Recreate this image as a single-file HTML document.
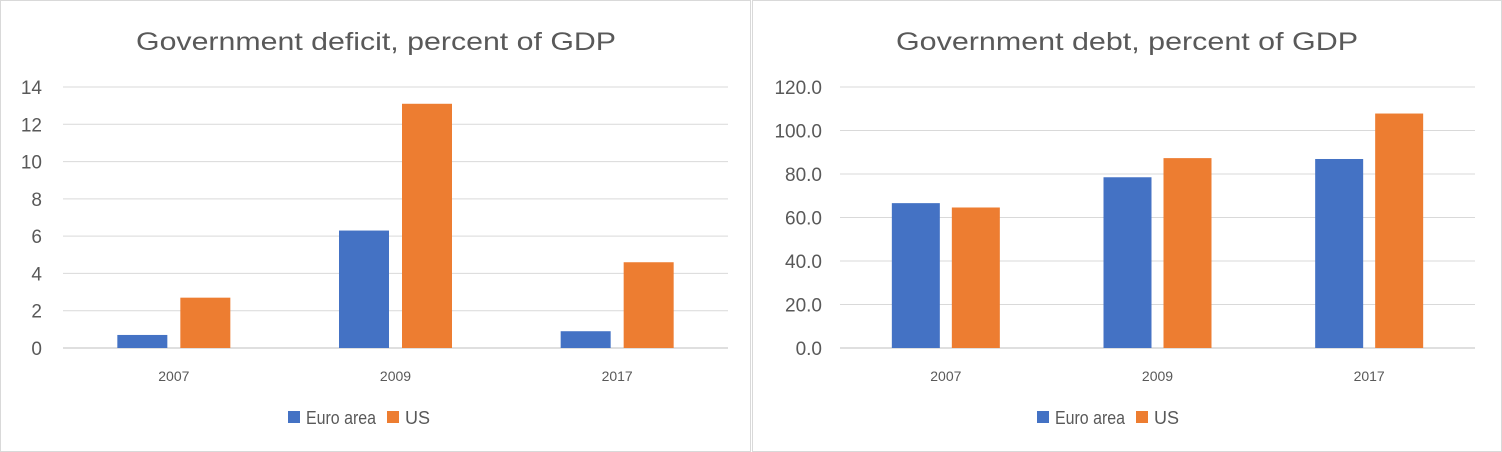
<!DOCTYPE html>
<html><head><meta charset="utf-8"><style>
body{margin:0;background:#fff;font-family:"Liberation Sans",sans-serif}
svg{display:block}
</style></head><body>
<svg width="1502" height="452" xmlns="http://www.w3.org/2000/svg">
<rect x="0.5" y="0.5" width="750" height="451" fill="#fff" stroke="#d9d9d9"/>
<rect x="752.5" y="0.5" width="749" height="451" fill="#fff" stroke="#d9d9d9"/>
<g id="c1"></g><g id="c2"></g>
</svg>
<script>
const categories=["2007","2009","2017"];
const deficitEuro=[0.7,6.3,0.9];
const deficitUS=[2.7,13.1,4.6];
const deficitTicks=[0,2,4,6,8,10,12,14];
const debtEuro=[66.6,78.5,86.9];
const debtUS=[64.6,87.3,107.8];
const debtTicks=[0,20,40,60,80,100,120];
const NS="http://www.w3.org/2000/svg";
function mk(p,t,a){const e=document.createElementNS(NS,t);for(const k in a)e.setAttribute(k,a[k]);p.appendChild(e);return e;}
function draw(g,cfg){
  const y0=348,y1=87,max=cfg.ticks[cfg.ticks.length-1];
  const ys=v=>y0-(v/max)*(y0-y1);
  const cw=(cfg.x1-cfg.x0)/categories.length;
  const t=mk(g,"text",{x:cfg.tx,y:50,"text-anchor":"middle","font-size":"25",fill:"#595959",textLength:cfg.tl,lengthAdjust:"spacingAndGlyphs"});t.textContent=cfg.title;
  
  
  cfg.ticks.forEach(v=>{
    const l=mk(g,"line",{x1:cfg.x0,x2:cfg.x1,y1:ys(v),y2:ys(v),stroke:v===0?"#bfbfbf":"#d9d9d9","stroke-width":1});
    
    
    const tl=mk(g,"text",{x:cfg.lx,y:ys(v)+7,"text-anchor":"end","font-size":"19",fill:"#595959"});
    tl.textContent=cfg.fmt(v);
    
    
  });
  categories.forEach((c,i)=>{
    const cx=cfg.x0+cw*(i+0.5);
    [[cfg.a,"#4472c4",-1],[cfg.b,"#ed7d31",1]].forEach(([arr,col,s])=>{
      const x=s<0?cx-cfg.gap/2-cfg.bw:cx+cfg.gap/2;
      const r=mk(g,"rect",{x:x,y:ys(arr[i]),width:cfg.bw,height:y0-ys(arr[i]),fill:col});
      
      
    });
    const xl=mk(g,"text",{x:cx,y:381,"text-anchor":"middle","font-size":"14",fill:"#595959"});xl.textContent=c;
    
    
  });
  [[cfg.lg,"#4472c4","Euro area",70],[cfg.lg+99,"#ed7d31","US",null]].forEach(([x,col,txt,w])=>{
    const s=mk(g,"rect",{x:x,y:411,width:12,height:12,fill:col});
    
    
    const a={x:x+18,y:424,"font-size":"18",fill:"#595959"};
    if(w){a.textLength=w;a.lengthAdjust="spacingAndGlyphs";}
    const lt=mk(g,"text",a);lt.textContent=txt;
    
    
  });
}
draw(document.getElementById("c1"),{title:"Government deficit, percent of GDP",tx:376,tl:480,x0:63,x1:728,lx:42,bw:50,gap:13,a:deficitEuro,b:deficitUS,ticks:deficitTicks,fmt:v=>String(v),lg:288});
draw(document.getElementById("c2"),{title:"Government debt, percent of GDP",tx:1127,tl:462,x0:840,x1:1475,lx:822,bw:48,gap:12,a:debtEuro,b:debtUS,ticks:debtTicks,fmt:v=>v.toFixed(1),lg:1037});
</script>
</body></html>
